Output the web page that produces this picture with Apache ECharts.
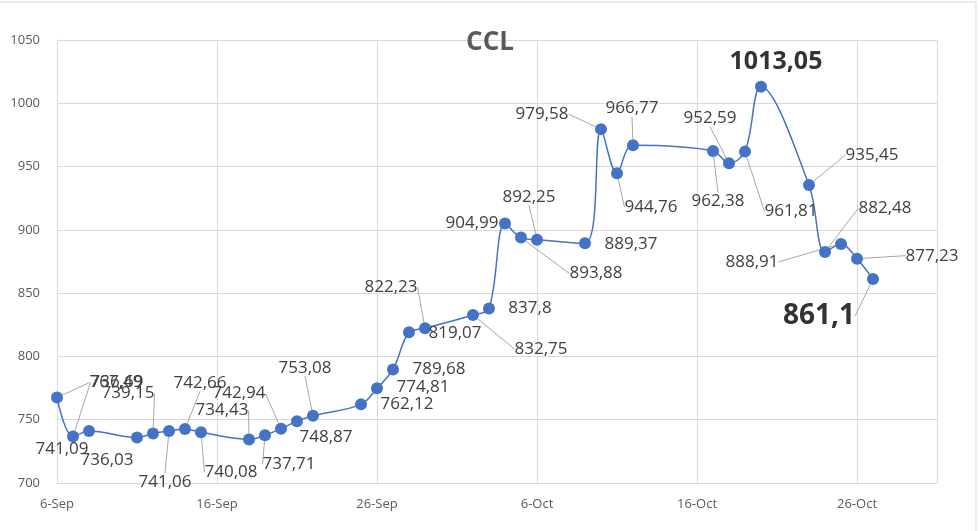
<!DOCTYPE html>
<html>
<head>
<meta charset="utf-8">
<script src="https://cdn.jsdelivr.net/npm/echarts@6/dist/echarts.min.js"></script>
<style>
  html, body { margin: 0; padding: 0; background: #fff; }
  #chartId { width: 980px; height: 531px; }
</style>
</head>
<body>
<div id="chartId"></div>
<script>
// fechas y valores del CCL
const dates = [
  "2023-09-06", "2023-09-07", "2023-09-08",
  "2023-09-11", "2023-09-12", "2023-09-13", "2023-09-14", "2023-09-15",
  "2023-09-18", "2023-09-19", "2023-09-20", "2023-09-21", "2023-09-22",
  "2023-09-25", "2023-09-26", "2023-09-27", "2023-09-28", "2023-09-29",
  "2023-10-02", "2023-10-03", "2023-10-04", "2023-10-05", "2023-10-06",
  "2023-10-09", "2023-10-10", "2023-10-11", "2023-10-12",
  "2023-10-17", "2023-10-18", "2023-10-19", "2023-10-20",
  "2023-10-23", "2023-10-24", "2023-10-25", "2023-10-26", "2023-10-27",
];
const values = [
  767.49, 736.69, 741.09,
  736.03, 739.15, 741.06, 742.66, 740.08,
  734.43, 737.71, 742.94, 748.87, 753.08,
  762.12, 774.81, 789.68, 819.07, 822.23,
  832.75, 837.8, 904.99, 893.88, 892.25,
  889.37, 979.58, 944.76, 966.77,
  962.38, 952.59, 961.81, 1013.05,
  935.45, 882.48, 888.91, 877.23, 861.1,
];
const yTicks = { min: 700, max: 1050, step: 50 };
const months = ["Jan", "Feb", "Mar", "Apr", "May", "Jun", "Jul", "Aug", "Sep", "Oct", "Nov", "Dec"];

// posicion de cada etiqueta respecto de su punto (px), y si lleva linea guia
const labelOffsets = [
  [59, -15], [44, -54], [-27, 18], [-30, 23], [-25, -40], [-4, 51], [15, -46], [30, 40],
  [-27, -29], [24, 29], [-42, -35], [29, 16], [-8, -48],
  [46, 0], [46, -1], [46, 0], [46, 1], [-34, -41],
  [68, 34], [41, 0], [-33, 0], [75, 36], [-8, -43],
  [46, 1], [-59, -15], [34, 34], [-1, -37],
  [5, 50], [-19, -45], [46, 60], [15, -25],
  [63, -30], [60, -44], [-89, 18], [75, -3], [-54, 37],
];
const noLeader = [2, 3, 11, 13, 14, 15, 16, 19, 20, 23, 30];
const bigLabels = { 30: 25, 35: 28 };

const c595959 = "#595959";
const gridColor = "#d9d9d9";
const font = "'Open Sans', 'Liberation Sans', sans-serif";

const base = Date.UTC(2023, 8, 6);
const dayOf = (s) => {
  let p = s.split("-");
  return Math.round((Date.UTC(+p[0], +p[1] - 1, +p[2]) - base) / 86400000);
};
const fmtDay = (d) => {
  let dt = new Date(base + d * 86400000);
  return dt.getUTCDate() + "-" + months[dt.getUTCMonth()];
};

let seriesData = dates.map((d, i) => {
  let item = { value: [dayOf(d), values[i]] };
  if (noLeader.indexOf(i) >= 0) item.labelLine = { show: false };
  if (bigLabels[i]) {
    item.label = { fontSize: bigLabels[i], fontWeight: "bold", color: "#333333" };
  }
  return item;
});

let chart = echarts.init(document.getElementById("chartId"), null, { renderer: "canvas" });
chart.setOption({
  animation: false,
  backgroundColor: "#fff",
  title: {
    text: "CCL",
    left: "center",
    top: 25,
    textStyle: { fontSize: 26, fontWeight: "bold", color: c595959, fontFamily: font },
  },
  grid: { left: 57, right: 43, top: 40, bottom: 48, containLabel: false },
  xAxis: {
    type: "value",
    min: 0,
    max: 55,
    interval: 10,
    axisLine: { show: true, lineStyle: { color: gridColor } },
    axisTick: { show: false },
    splitLine: { show: true, lineStyle: { color: gridColor } },
    axisLabel: {
      color: c595959,
      fontSize: 13,
      fontFamily: font,
      margin: 15,
      showMaxLabel: false,
      formatter: (v) => fmtDay(v),
    },
  },
  yAxis: {
    type: "value",
    min: yTicks.min,
    max: yTicks.max,
    interval: yTicks.step,
    axisLine: { show: true, lineStyle: { color: gridColor } },
    axisTick: { show: false },
    splitLine: { show: true, lineStyle: { color: gridColor } },
    axisLabel: {
      color: c595959,
      fontSize: 13,
      fontFamily: font,
      margin: 17,
      formatter: (v) => String(v),
    },
  },
  graphic: [
    {
      type: "rect",
      shape: { x: -2, y: 2, width: 978, height: 540 },
      style: { fill: "none", stroke: gridColor, lineWidth: 1 },
      silent: true,
    },
  ],
  series: [
    {
      type: "line",
      data: seriesData,
      smooth: 0.35,
      symbol: "circle",
      symbolSize: 12,
      itemStyle: { color: "#4472c4" },
      lineStyle: { color: "#4472c4", width: 1.5 },
      label: {
        show: true,
        position: "top",
        fontSize: 17,
        color: "#404040",
        fontFamily: font,
        formatter: (p) => String(p.value[1]).replace(".", ","),
      },
      labelLine: { show: true, lineStyle: { color: "#a6a6a6", width: 1 } },
      labelLayout: function (p) {
        let o = labelOffsets[p.dataIndex];
        let cx = p.rect.x + p.rect.width / 2;
        let cy = p.rect.y + p.rect.height / 2;
        let lx = p.labelRect.x + p.labelRect.width / 2;
        let ly = p.labelRect.y + p.labelRect.height / 2;
        return { dx: cx + o[0] - lx, dy: cy + o[1] - ly };
      },
    },
  ],
});
</script>
</body>
</html>
